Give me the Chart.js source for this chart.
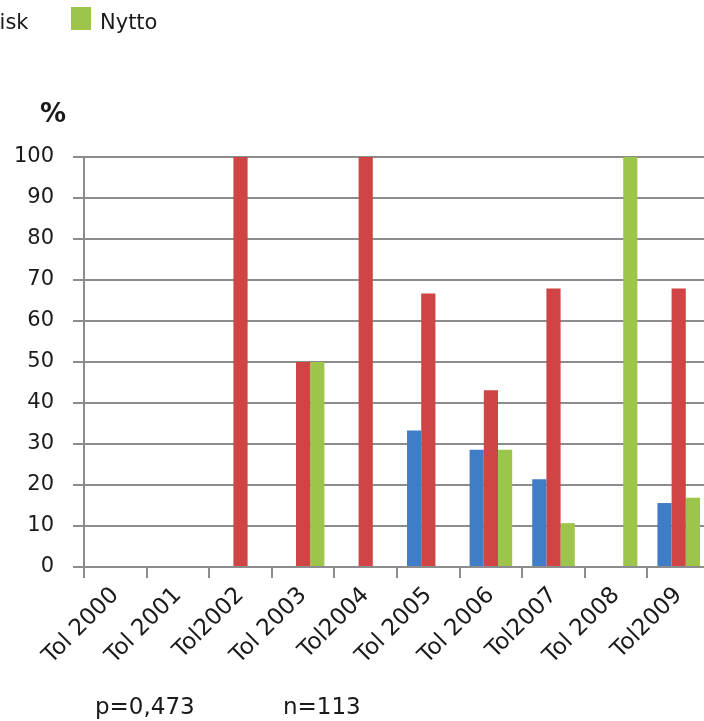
<!DOCTYPE html>
<html>
<head>
<meta charset="utf-8">
<script src="https://cdn.jsdelivr.net/npm/chart.js@4/dist/chart.umd.min.js"></script>
<style>
    body { margin: 0; background: #fff; overflow: hidden; font-family: "DejaVu Sans", Verdana, sans-serif; }
    #wrap { position: relative; width: 740px; height: 721px; }
    #chart { position: absolute; left: 0; top: 0; }
    .txt { position: absolute; white-space: nowrap; color: #1a1a1a; }
    .box { position: absolute; width: 20px; height: 23px; }
</style>
</head>
<body>
<div id="wrap">
    <canvas id="chart" width="740" height="721"></canvas>
    <!-- legend, cut off at the left edge like the original -->
    <div class="box" style="left:-72px; top:7px; background:#cf4543;"></div>
    <div class="txt" style="left:-15px; top:10px; font-size:21px;">Risk</div>
    <div class="box" style="left:71px; top:7px; background:#9dc54b;"></div>
    <div class="txt" style="left:100px; top:10px; font-size:21px;">Nytto</div>
    <div class="txt" style="left:40px; top:98px; font-size:26px; font-weight:bold;">%</div>
    <div class="txt" style="left:95px; top:693px; font-size:23px;">p=0,473</div>
    <div class="txt" style="left:283px; top:693px; font-size:23px;">n=113</div>
</div>
<script>
    // Chart data
    const categories = ['Tol 2000', 'Tol 2001', 'Tol2002', 'Tol 2003', 'Tol2004', 'Tol 2005', 'Tol 2006', 'Tol2007', 'Tol 2008', 'Tol2009'];
    const blueValues = [0, 0, 0, 0, 0, 33.3, 28.6, 21.4, 0, 15.6];
    const riskValues = [0, 0, 100, 50, 100, 66.7, 43.1, 67.9, 0, 67.9];
    const nyttoValues = [0, 0, 0, 50, 0, 0, 28.6, 10.7, 100, 16.9];

    const gridColor = '#8c8c8c';
    const fontFamily = '"DejaVu Sans", Verdana, sans-serif';

    const ctx = document.getElementById('chart').getContext('2d');
    new Chart(ctx, {
        type: 'bar',
        data: {
            labels: categories,
            datasets: [
                { label: 'Ingen', data: blueValues, backgroundColor: '#3f7dc7' },
                { label: 'Risk', data: riskValues, backgroundColor: '#cf4543' },
                { label: 'Nytto', data: nyttoValues, backgroundColor: '#9dc54b' }
            ]
        },
        options: {
            responsive: false,
            animation: false,
            layout: { padding: { top: 157, right: 30, left: 0, bottom: 0 } },
            datasets: {
                bar: { barPercentage: 1, categoryPercentage: 0.68, borderWidth: 0 }
            },
            plugins: {
                legend: { display: false },
                tooltip: { enabled: false }
            },
            scales: {
                x: {
                    offset: true,
                    grid: { offset: true, drawOnChartArea: false, tickLength: 11, color: gridColor, lineWidth: 2 },
                    border: { color: gridColor, width: 2 },
                    ticks: { autoSkip: false, minRotation: 45, maxRotation: 45, padding: 4, color: '#1a1a1a', font: { family: fontFamily, size: 23 } },
                    afterFit: function(scale) { scale.height = 721 - 567; }
                },
                y: {
                    min: 0,
                    max: 100,
                    grid: { color: gridColor, lineWidth: 2, tickLength: 11 },
                    border: { color: gridColor, width: 2 },
                    ticks: { stepSize: 10, padding: 19, color: '#1a1a1a', font: { family: fontFamily, size: 21 } },
                    afterFit: function(scale) { scale.width = 84; }
                }
            }
        }
    });
</script>
</body>
</html>
